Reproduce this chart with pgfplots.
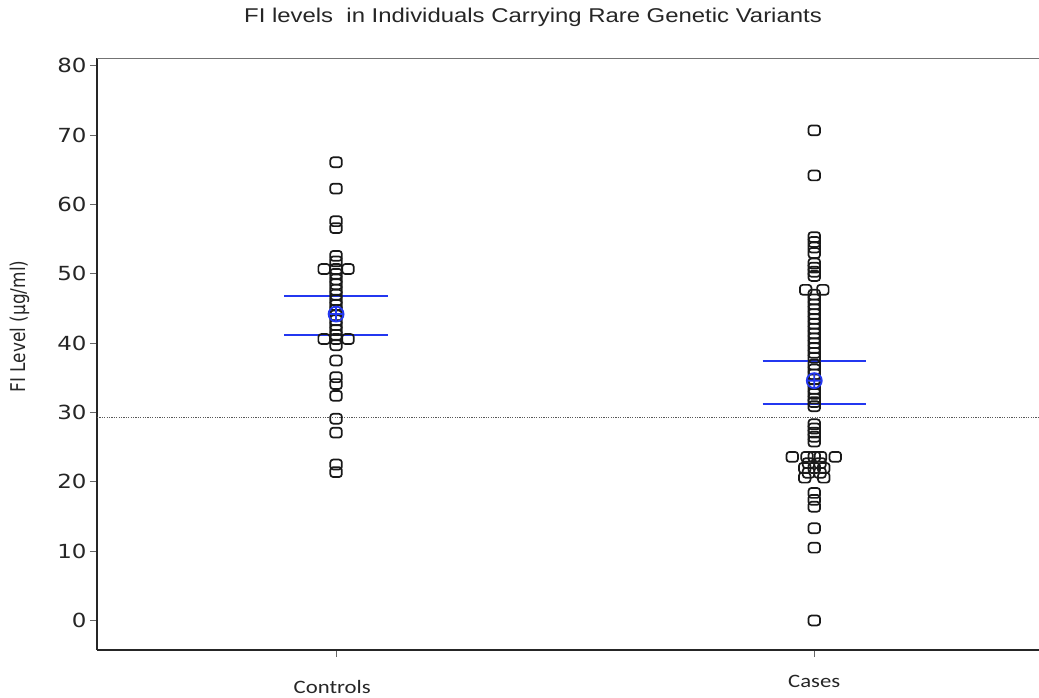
\documentclass[border=0pt]{standalone}
\usepackage{fontspec}
\usepackage{graphicx}
\usepackage{pgfplots}
\usepackage{pgfplotstable}
\pgfplotsset{compat=1.18}
\newfontfamily\titlefont{Liberation Sans}
\newfontfamily\tickfont{DejaVu Sans}
\newfontfamily\catfont{Carlito}

\pgfdeclareplotmark{rsquare}{%
  \pgfpathmoveto{\pgfpoint{-2.85bp}{-4.95bp}}%
  \pgfpathlineto{\pgfpoint{2.85bp}{-4.95bp}}%
  \pgfpathcurveto{\pgfpoint{4.40bp}{-4.95bp}}{\pgfpoint{5.75bp}{-3.70bp}}{\pgfpoint{5.75bp}{-2.15bp}}%
  \pgfpathlineto{\pgfpoint{5.75bp}{2.15bp}}%
  \pgfpathcurveto{\pgfpoint{5.75bp}{3.70bp}}{\pgfpoint{4.40bp}{4.95bp}}{\pgfpoint{2.85bp}{4.95bp}}%
  \pgfpathlineto{\pgfpoint{-2.85bp}{4.95bp}}%
  \pgfpathcurveto{\pgfpoint{-4.40bp}{4.95bp}}{\pgfpoint{-5.75bp}{3.70bp}}{\pgfpoint{-5.75bp}{2.15bp}}%
  \pgfpathlineto{\pgfpoint{-5.75bp}{-2.15bp}}%
  \pgfpathcurveto{\pgfpoint{-5.75bp}{-3.70bp}}{\pgfpoint{-4.40bp}{-4.95bp}}{\pgfpoint{-2.85bp}{-4.95bp}}%
  \pgfpathclose
  \pgfusepathqstroke}

\pgfplotstableread{
x y
0 66.1
0 62.3
0 57.6
0 56.6
0 52.6
0 51.8
-0.025 50.7
0 50.7
0.025 50.7
0 50.0
0 49.2
0 48.5
0 47.7
0 47.0
0 46.2
0 45.5
0 44.8
0 44.0
0 43.3
0 42.6
0 41.9
0 41.2
-0.025 40.6
0 40.6
0.025 40.6
0 39.7
0 37.5
0 35.1
0 34.1
0 32.4
0 29.1
0 27.1
0 22.5
0 21.4
}\controls

\pgfplotstableread{
x y
1 70.7
1 64.2
1 55.3
1 54.6
1 53.8
1 53.0
1 51.5
1 50.9
1 50.3
1 49.7
0.982 47.7
1.018 47.7
1 47.0
1 46.3
1 45.6
1 44.9
1 44.2
1 43.5
1 42.8
1 42.1
1 41.4
1 40.7
1 40.0
1 39.3
1 38.6
1 37.9
1 36.9
1 36.2
1 35.5
1 34.8
1 34.1
1 33.4
1 32.7
1 32.0
1 31.5
1 30.9
1 28.3
1 27.7
1 27.1
1 26.5
1 25.8
0.954 23.6
0.985 23.6
1 23.6
1.013 23.6
1.044 23.6
0.988 22.7
1.012 22.7
0.980 22.0
1 22.0
1.020 22.0
0.988 21.3
1.012 21.3
0.980 20.6
1.020 20.6
1 18.4
1 17.4
1 16.4
1 13.3
1 10.5
1 0.0
}\cases

\definecolor{meanblue}{RGB}{35,55,240}

\begin{document}
\begin{tikzpicture}
\begin{axis}[
  at={(0,0)}, anchor=south west,
  scale only axis, width=942bp, height=591.7bp,
  xmin=-0.5, xmax=1.47, ymin=-4.26, ymax=81.1,
  axis x line=bottom, axis y line=left,
  axis line style={-, line width=1.4bp, black!85},
  xtick={0,1}, xticklabels={},
  ytick={0,10,...,80},
  tick align=outside, major tick length=7bp,
  tick style={black!60, line width=0.9bp},
  yticklabel style={font=\tickfont\fontsize{19.5}{19.5}\selectfont, text=black!85},
  yticklabel={\scalebox{1.18}[1]{\pgfmathprintnumber{\tick}}},
  /pgf/number format/assume math mode=true,
  clip=false,
]
% reference line
\addplot[black!65, line width=1.1bp, dash pattern=on 1.2bp off 1.2bp] coordinates {(-0.5,29.3) (1.47,29.3)};
% points
\addplot[only marks, mark=rsquare, mark options={line width=1.7bp, black!90}] table[x=x,y=y] {\controls};
\addplot[only marks, mark=rsquare, mark options={line width=1.7bp, black!90}] table[x=x,y=y] {\cases};
% mean and CI
\addplot[meanblue, line width=2bp] coordinates {(-0.108,46.8) (0.108,46.8)};
\addplot[meanblue, line width=2bp] coordinates {(-0.108,41.2) (0.108,41.2)};
\addplot[meanblue, line width=2bp] coordinates {(0.892,37.5) (1.108,37.5)};
\addplot[meanblue, line width=2bp] coordinates {(0.892,31.3) (1.108,31.3)};
\addplot[only marks, mark=oplus, mark size=7.5bp, mark options={meanblue, line width=1.8bp}] coordinates {(0,44.2) (1,34.6)};
% top frame line
\draw[black!55, line width=1.5bp] (rel axis cs:0,1) -- (rel axis cs:1,1);
% category labels
\node[font=\catfont\fontsize{19}{19}\selectfont, text=black!85] at (axis cs:-0.008,-4.26) [yshift=-37bp] {\scalebox{1.2}[1]{Controls}};
\node[font=\catfont\fontsize{19}{19}\selectfont, text=black!85] at (axis cs:1,-4.26) [yshift=-31bp] {\scalebox{1.2}[1]{Cases}};
% y label
\node[font=\tickfont\fontsize{17}{17}\selectfont, text=black!85, rotate=90] at (axis cs:-0.662,42.4) {\scalebox{1}[1.2]{FI Level (µg/ml)}};
% title
\node[font=\titlefont\fontsize{20}{20}\selectfont, text=black!85] at (rel axis cs:0,1) [xshift=436bp, yshift=41bp] {\scalebox{1.2}[1]{FI levels\ \ in Individuals Carrying Rare Genetic Variants}};
\end{axis}
\pgfresetboundingbox
\path[use as bounding box] (-97bp,-48bp) rectangle (942bp,650bp);
\end{tikzpicture}
\end{document}
